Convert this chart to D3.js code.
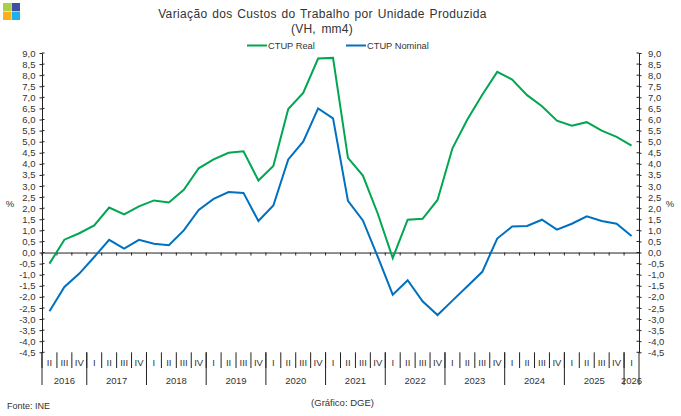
<!DOCTYPE html>
<html lang="pt">
<head>
<meta charset="utf-8">
<title>Variação dos Custos do Trabalho por Unidade Produzida</title>
<script src="https://cdn.jsdelivr.net/npm/d3@7"></script>
<style>
  html, body { margin: 0; padding: 0; background: #fff; }
  svg { display: block; }
  text { font-family: "Liberation Sans", Arial, sans-serif; fill: #333; }
</style>
</head>
<body>
<svg id="chart" width="681" height="416"></svg>
<script>
// Quarterly series, 2016 Q2 to 2026 Q1
const years = ["2016", "2017", "2018", "2019", "2020", "2021", "2022", "2023", "2024", "2025", "2026"];
const quartersPerYear = [3, 4, 4, 4, 4, 4, 4, 4, 4, 4, 1];
const quarterNames = ["I", "II", "III", "IV"];
const firstQuarterIndex = 1;

const ctupReal = [
  -0.5, 0.58, 0.87, 1.22, 2.03, 1.72, 2.08, 2.35, 2.26, 2.83,
  3.8, 4.2, 4.5, 4.57, 3.25, 3.9, 6.47, 7.2, 8.75, 8.78,
  4.27, 3.47, 1.75, -0.25, 1.48, 1.52, 2.37, 4.7, 6.0, 7.12,
  8.15, 7.8, 7.1, 6.6, 5.95, 5.72, 5.88, 5.5, 5.22, 4.82
];
const ctupNominal = [
  -2.65, -1.55, -0.95, -0.2, 0.57, 0.18, 0.57, 0.4, 0.33, 1.0,
  1.92, 2.42, 2.73, 2.69, 1.42, 2.12, 4.2, 5.0, 6.5, 6.05,
  2.33, 1.45, -0.2, -1.9, -1.25, -2.2, -2.82, -2.17, -1.52, -0.87,
  0.63, 1.17, 1.2, 1.48, 1.03, 1.3, 1.63, 1.42, 1.3, 0.75
];
const seriesNames = ["CTUP Real", "CTUP Nominal"];
const seriesColors = ["#00a651", "#0070c0"];
const logoColors = ["#a9d04a", "#3f4fa5", "#fdb015", "#1fb0e6"];

const axisLeftX = 42, axisRightX = 639, plotTop = 53, plotBottom = 352.3;
const quarterTickEnd = 368, yearTickEnd = 385;
const axisColor = "#222";
const labelSize = "9.5px";

const svg = d3.select("#chart");

// One band per quarter, labelled by running index
const quarterIndex = d3.range(ctupReal.length);
const x = d3.scaleBand().domain(quarterIndex).range([axisLeftX, axisRightX]);
const y = d3.scaleLinear().domain([-4.5, 9]).range([plotBottom, plotTop]);
const yTicks = d3.range(-9, 19).map(d => d / 2);
const formatTick = d => d3.format(".1f")(d).replace(".", ",").replace("−", "-");

// Logo
const logoCell = d3.scaleBand().domain([0, 1]).range([3, 20]).paddingInner(0.06);
svg.append("g").selectAll("rect").data(logoColors).join("rect")
  .attr("x", (d, i) => logoCell(i % 2))
  .attr("y", (d, i) => logoCell(Math.floor(i / 2)))
  .attr("width", logoCell.bandwidth())
  .attr("height", logoCell.bandwidth())
  .attr("fill", d => d);

// Title
const title = svg.append("g").attr("text-anchor", "middle").attr("font-size", "12px");
title.append("text").attr("x", 322.5).attr("y", 18).attr("word-spacing", "1px").attr("letter-spacing", "0.36px")
  .text("Variação dos Custos do Trabalho por Unidade Produzida");
title.append("text").attr("x", 322).attr("y", 33).attr("letter-spacing", "0.2px").attr("word-spacing", "2px").text("(VH, mm4)");

// Legend
const legendX = [247, 346];
const legend = svg.append("g").selectAll("g").data(seriesNames).join("g")
  .attr("transform", (d, i) => `translate(${legendX[i]},45.5)`);
legend.append("line").attr("x2", 20).attr("stroke", (d, i) => seriesColors[i]).attr("stroke-width", 2);
legend.append("text").attr("x", 21).attr("y", 3.3).attr("font-size", "9.3px").text(d => d);

// Value axes on both sides
function styleAxis(g) {
  g.selectAll("path").attr("stroke", axisColor);
  g.selectAll("line").attr("stroke", axisColor);
  g.selectAll("text").attr("font-size", labelSize).attr("font-family", '"Liberation Sans", Arial, sans-serif').style("fill", "#333");
}
svg.append("g").attr("transform", `translate(${axisLeftX},0)`)
  .call(d3.axisLeft(y).tickValues(yTicks).tickFormat(formatTick).tickSizeOuter(0).tickSizeInner(2.5).tickPadding(4))
  .call(styleAxis);
svg.append("g").attr("transform", `translate(${axisRightX},0)`)
  .call(d3.axisRight(y).tickValues(yTicks).tickFormat(formatTick).tickSizeOuter(0).tickSizeInner(2.5).tickPadding(6.5))
  .call(styleAxis);
// Ticks cross the axis line on the inner side as well
svg.append("g").selectAll("line").data(yTicks.flatMap(v => [[axisLeftX, v], [axisRightX, v]])).join("line")
  .attr("x1", d => d[0]).attr("x2", d => d[0] + (d[0] === axisLeftX ? 2.5 : -2.5))
  .attr("y1", d => y(d[1])).attr("y2", d => y(d[1]))
  .attr("stroke", axisColor);

// Zero line with a small tick at each quarter boundary
const zeroAxis = d3.axisBottom(x).tickValues(quarterIndex).tickFormat("").tickSizeOuter(0).tickSize(3);
svg.append("g").attr("transform", `translate(0,${y(0)})`).call(zeroAxis)
  .call(g => g.selectAll("g.tick").attr("transform", d => `translate(${x(d)},0)`))
  .call(styleAxis);

// Period rows underneath the plot
const periods = [];
let cursor = 0;
years.forEach((year, yi) => {
  d3.range(quartersPerYear[yi]).forEach(q => {
    const nameIdx = yi === 0 ? q + firstQuarterIndex : q;
    periods.push({ i: cursor + q, name: quarterNames[nameIdx], year });
  });
  cursor += quartersPerYear[yi];
});
const bands = svg.append("g");
bands.selectAll("text.q").data(periods).join("text").attr("class", "q")
  .attr("x", d => x(d.i) + x.bandwidth() / 2).attr("y", 366).attr("text-anchor", "middle")
  .attr("font-size", labelSize).text(d => d.name);
bands.selectAll("line.q").data(periods).join("line").attr("class", "q")
  .attr("x1", d => x(d.i)).attr("x2", d => x(d.i))
  .attr("y1", plotBottom).attr("y2", quarterTickEnd).attr("stroke", axisColor);

const yearStarts = d3.cumsum([0, ...quartersPerYear]);
bands.selectAll("line.y").data(yearStarts).join("line").attr("class", "y")
  .attr("x1", d => d === ctupReal.length ? axisRightX : x(d))
  .attr("x2", d => d === ctupReal.length ? axisRightX : x(d))
  .attr("y1", plotBottom).attr("y2", yearTickEnd).attr("stroke", axisColor);
bands.selectAll("text.y").data(years).join("text").attr("class", "y")
  .attr("x", (d, i) => axisLeftX + x.step() * (yearStarts[i] + quartersPerYear[i] / 2))
  .attr("y", 383.5).attr("text-anchor", "middle").attr("font-size", labelSize).text(d => d);

// Series lines
const line = d3.line().x((d, i) => x(i) + x.bandwidth() / 2).y(d => y(d));
svg.append("g").selectAll("path").data([ctupReal, ctupNominal]).join("path")
  .attr("d", line).attr("fill", "none")
  .attr("stroke", (d, i) => seriesColors[i]).attr("stroke-width", 2).attr("stroke-linejoin", "miter");

// Side units and footer
svg.append("text").attr("x", 10).attr("y", 207).attr("text-anchor", "middle").attr("font-size", labelSize).text("%");
svg.append("text").attr("x", 670).attr("y", 207).attr("text-anchor", "middle").attr("font-size", labelSize).text("%");
svg.append("text").attr("x", 7).attr("y", 408.5).attr("font-size", "9px").text("Fonte: INE");
svg.append("text").attr("x", 342.5).attr("y", 405.5).attr("text-anchor", "middle").attr("font-size", labelSize).text("(Gráfico: DGE)");
</script>
</body>
</html>
